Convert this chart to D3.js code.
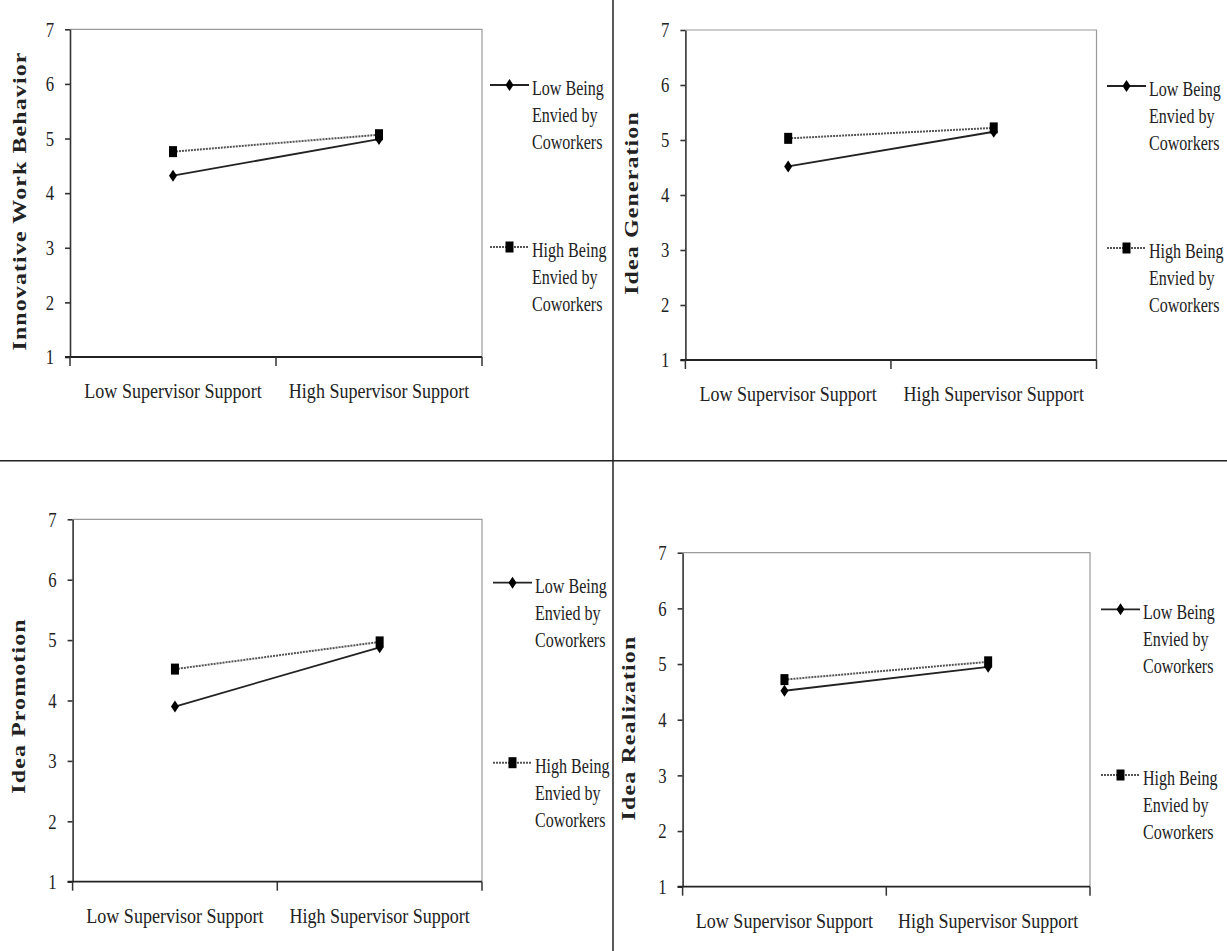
<!DOCTYPE html>
<html>
<head>
<meta charset="utf-8">
<script src="https://cdn.jsdelivr.net/npm/d3@7"></script>
<style>
  html, body { margin: 0; padding: 0; background: #fff; }
  svg { display: block; }
  text { font-family: "Liberation Serif", "Times New Roman", serif; fill: #222; }
</style>
</head>
<body>
<svg id="chart" width="1227" height="951"></svg>
<script>
// ---------- data ----------
const categories = ["Low Supervisor Support", "High Supervisor Support"];
const yTicks = [1, 2, 3, 4, 5, 6, 7];
const panelTitles = ["Innovative Work Behavior", "Idea Generation", "Idea Promotion", "Idea Realization"];
const seriesLegend = [
  ["Low Being", "Envied by", "Coworkers"],
  ["High Being", "Envied by", "Coworkers"]
];
// Low Being Envied by Coworkers (solid, diamond)
const lowEnvy = [
  [4.32, 4.99],
  [4.52, 5.15],
  [3.90, 4.88],
  [4.52, 4.95]
];
// High Being Envied by Coworkers (dotted, square)
const highEnvy = [
  [4.76, 5.07],
  [5.03, 5.22],
  [4.52, 4.97],
  [4.72, 5.04]
];

// ---------- layout (styles) ----------
const layouts = [
  { left: 70,    right: 482,    top: 29.3,  bottom: 357,   legX: 490,  legY: [85, 247],    yLabX: 20,  yLabY: 201 },
  { left: 685.4, right: 1096.5, top: 30,    bottom: 360,   legX: 1107, legY: [86, 248],    yLabX: 632, yLabY: 203 },
  { left: 72.6,  right: 482,    top: 519.3, bottom: 881.7, legX: 493,  legY: [582.7, 762.7], yLabX: 19, yLabY: 706 },
  { left: 682.6, right: 1090,   top: 552.7, bottom: 886.7, legX: 1101, legY: [609.3, 775],   yLabX: 629, yLabY: 728 }
];
const SX = 0.76; // horizontal condensing of the reference text

const svg = d3.select("#chart");

// dividers
svg.append("line").attr("x1", 613).attr("x2", 613).attr("y1", 0).attr("y2", 951)
  .attr("stroke", "#222").attr("stroke-width", 1.5);
svg.append("line").attr("x1", 0).attr("x2", 1227).attr("y1", 460.7).attr("y2", 460.7)
  .attr("stroke", "#222").attr("stroke-width", 1.5);

function condensedText(parent, x, y, str, opts) {
  const g = parent.append("g").attr("transform", `translate(${x},${y}) scale(${opts.sx || SX},1)`);
  return g.append("text")
    .attr("text-anchor", opts.anchor || "start")
    .attr("dominant-baseline", opts.baseline || "auto")
    .attr("font-size", opts.size || 22)
    .attr("font-weight", opts.weight || "normal")
    .attr("letter-spacing", opts.ls || 0)
    .text(str);
}

function diamond(g, cx, cy) {
  g.append("path")
    .attr("d", `M${cx},${cy - 6} L${cx + 4},${cy} L${cx},${cy + 6} L${cx - 4},${cy} Z`)
    .attr("fill", "#000");
}
function square(g, cx, cy) {
  g.append("rect").attr("x", cx - 4).attr("y", cy - 5.5).attr("width", 8).attr("height", 11)
    .attr("fill", "#000");
}

layouts.forEach((L, i) => {
  const g = svg.append("g");
  const x = d3.scaleBand().domain(categories).range([L.left, L.right]).paddingInner(0).paddingOuter(0);
  const y = d3.scaleLinear().domain([1, 7]).range([L.bottom, L.top]);

  // top & right frame (gray)
  g.append("path")
    .attr("d", `M${L.left},${L.top} H${L.right} V${L.bottom}`)
    .attr("fill", "none").attr("stroke", "#9a9a9a").attr("stroke-width", 1.2);

  // y axis
  const yAxis = g.append("g").attr("transform", `translate(${L.left},0)`)
    .call(d3.axisLeft(y).tickValues(yTicks).tickSize(5).tickSizeOuter(0).tickFormat(""));
  yAxis.selectAll("path, line").attr("stroke", "#333").attr("stroke-width", 1.6);
  yTicks.forEach(t => {
    condensedText(g, L.left - 16, y(t), String(t), { anchor: "end", baseline: "central", size: 22 });
  });

  // x axis (ticks at band boundaries)
  g.append("line").attr("x1", L.left - 5).attr("x2", L.right).attr("y1", L.bottom).attr("y2", L.bottom)
    .attr("stroke", "#222").attr("stroke-width", 1.8);
  const bounds = [x.range()[0], x(categories[1]), x.range()[1]];
  bounds.forEach(b => {
    g.append("line").attr("x1", b).attr("x2", b).attr("y1", L.bottom).attr("y2", L.bottom + 9)
      .attr("stroke", "#333").attr("stroke-width", 1.5);
  });
  categories.forEach(c => {
    condensedText(g, x(c) + x.bandwidth() / 2, L.bottom + 41, c, { anchor: "middle", size: 22, sx: 0.82 });
  });

  // y label
  const yl = g.append("g").attr("transform", `translate(${L.yLabX},${L.yLabY}) scale(0.76,1) rotate(-90)`);
  yl.append("text").attr("text-anchor", "middle").attr("dominant-baseline", "central")
    .attr("font-size", 24).attr("font-weight", "bold").attr("letter-spacing", 1.1)
    .attr("fill", "#111").text(panelTitles[i]);

  // series lines
  const cx = c => x(c) + x.bandwidth() / 2;
  const line = d3.line().x(d => cx(d.c)).y(d => y(d.v));
  const hi = categories.map((c, k) => ({ c, v: highEnvy[i][k] }));
  const lo = categories.map((c, k) => ({ c, v: lowEnvy[i][k] }));

  g.append("path").datum(hi).attr("d", line).attr("fill", "none")
    .attr("stroke", "#555").attr("stroke-width", 2).attr("stroke-dasharray", "2,1");
  g.append("path").datum(lo).attr("d", line).attr("fill", "none")
    .attr("stroke", "#222").attr("stroke-width", 1.8);
  hi.forEach(d => square(g, cx(d.c), y(d.v)));
  lo.forEach(d => diamond(g, cx(d.c), y(d.v)));

  // legend
  [0, 1].forEach(s => {
    const ly = L.legY[s];
    const x0 = L.legX, x1 = L.legX + 39;
    const ln = g.append("line").attr("x1", x0).attr("x2", x1).attr("y1", ly).attr("y2", ly);
    if (s === 0) {
      ln.attr("stroke", "#222").attr("stroke-width", 1.8);
      diamond(g, (x0 + x1) / 2, ly);
    } else {
      ln.attr("stroke", "#555").attr("stroke-width", 2).attr("stroke-dasharray", "2,1");
      square(g, (x0 + x1) / 2, ly);
    }
    seriesLegend[s].forEach((t, k) => {
      condensedText(g, x1 + 3, ly + 10 + k * 27, t, { anchor: "start", size: 22, sx: 0.73 });
    });
  });
});
</script>
</body>
</html>
